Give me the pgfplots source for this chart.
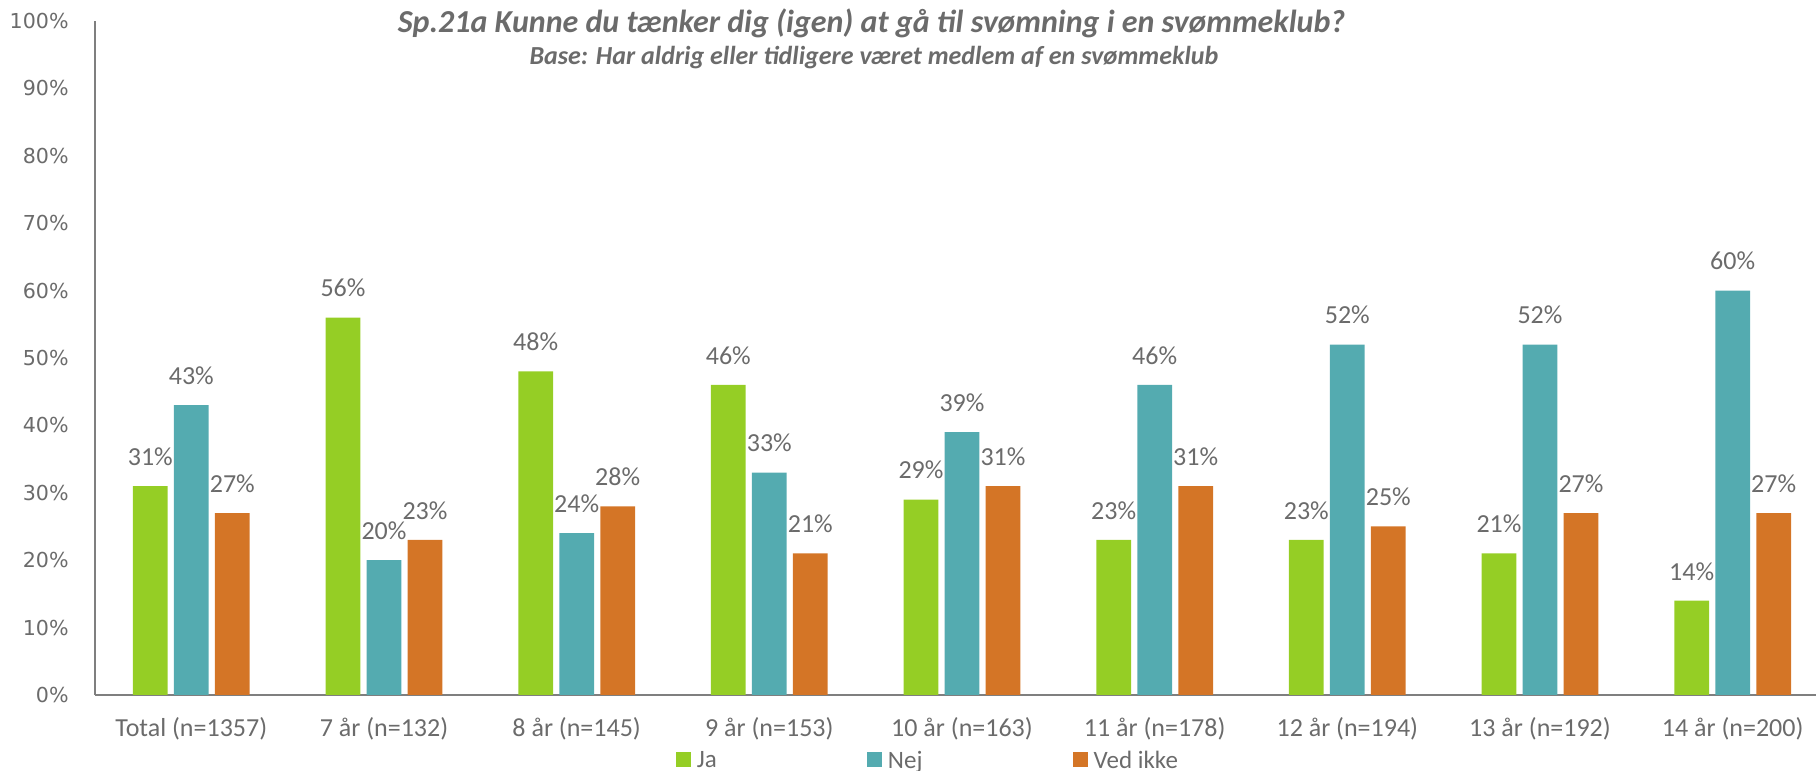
\documentclass[border=0pt]{standalone}
\usepackage{pgfplots}
\pgfplotsset{compat=1.18}
\usepackage{fontspec}
\setmainfont{Carlito}
\newfontfamily\dejavu{DejaVu Sans}
\definecolor{ja}{HTML}{95CE25}
\definecolor{nej}{HTML}{54ABB0}
\definecolor{ved}{HTML}{D47526}
\definecolor{txt}{HTML}{6B6B6B}
\definecolor{axl}{HTML}{7F7F7F}
\pgfplotsset{
  sq/.style={fill=#1, draw=none,
    legend image code/.code={\fill[fill=#1] (0pt,-3pt) rectangle (7.5pt,4.5pt);}},
}
\begin{document}
\begin{tikzpicture}
\begin{axis}[
  at={(0,0)}, anchor=south west,
  scale only axis, width=867pt, height=337pt,
  xmin=-0.5, xmax=8.5, ymin=0, ymax=100,
  enlarge x limits=false,
  axis lines*=left,
  axis line style={draw=axl, line width=1pt},
  ybar=3.15pt, bar width=17.35pt,
  xtick={0,1,2,3,4,5,6,7,8},
  xticklabels={Total (n=1357), 7 år (n=132), 8 år (n=145), 9 år (n=153), 10 år (n=163), 11 år (n=178), 12 år (n=194), 13 år (n=192), 14 år (n=200)},
  xticklabel style={font=\fontsize{13}{15}\selectfont, text=txt, anchor=base, inner sep=0pt, yshift=-20.85pt},
  ytick={0,10,20,30,40,50,60,70,80,90,100},
  yticklabels={0\%,10\%,20\%,30\%,40\%,50\%,60\%,70\%,80\%,90\%,100\%},
  yticklabel style={font=\dejavu\fontsize{10.3}{12}\selectfont, text=txt, anchor=east, inner sep=0pt, xshift=-13pt},
  major tick length=0pt,
  /pgf/number format/assume math mode=true,
  nodes near coords={\pgfmathprintnumber{\pgfplotspointmeta}\%},
  nodes near coords style={font=\fontsize{13}{15}\selectfont, text=txt, inner sep=0pt, anchor=south, yshift=10pt},
  legend columns=3,
  legend style={at={(axis description cs:0.33506,0)}, anchor=west, yshift=-33pt,
    draw=none, fill=none, inner sep=0pt, outer sep=0pt,
    font=\fontsize{12.5}{15}\selectfont, text=txt,
    nodes={inner sep=0pt},
    /tikz/every odd column/.append style={column sep=3pt}},
]
\addplot[sq=ja] coordinates {(0,31) (1,56) (2,48) (3,46) (4,29) (5,23) (6,23) (7,21) (8,14)};
\addlegendentry{\makebox[85pt][l]{Ja}}
\addplot[sq=nej] coordinates {(0,43) (1,20) (2,24) (3,33) (4,39) (5,46) (6,52) (7,52) (8,60)};
\addlegendentry{\makebox[92.35pt][l]{Nej}}
\addplot[sq=ved] coordinates {(0,27) (1,23) (2,28) (3,21) (4,31) (5,31) (6,25) (7,27) (8,27)};
\addlegendentry{Ved ikke}
\end{axis}
\node[anchor=base, font=\bfseries\itshape\fontsize{16}{18}\selectfont, text=txt] at (388.25pt,331pt) {Sp.21a Kunne du tænker dig (igen) at gå til svømning i en svømmeklub?};
\node[anchor=base, font=\bfseries\itshape\fontsize{13}{15}\selectfont, text=txt] at (389.5pt,315pt) {Base: Har aldrig eller tidligere været medlem af en svømmeklub};
\pgfresetboundingbox
\path[use as bounding box] (-47.5pt,-38pt) rectangle (860.5pt,347.5pt);
\end{tikzpicture}
\end{document}
